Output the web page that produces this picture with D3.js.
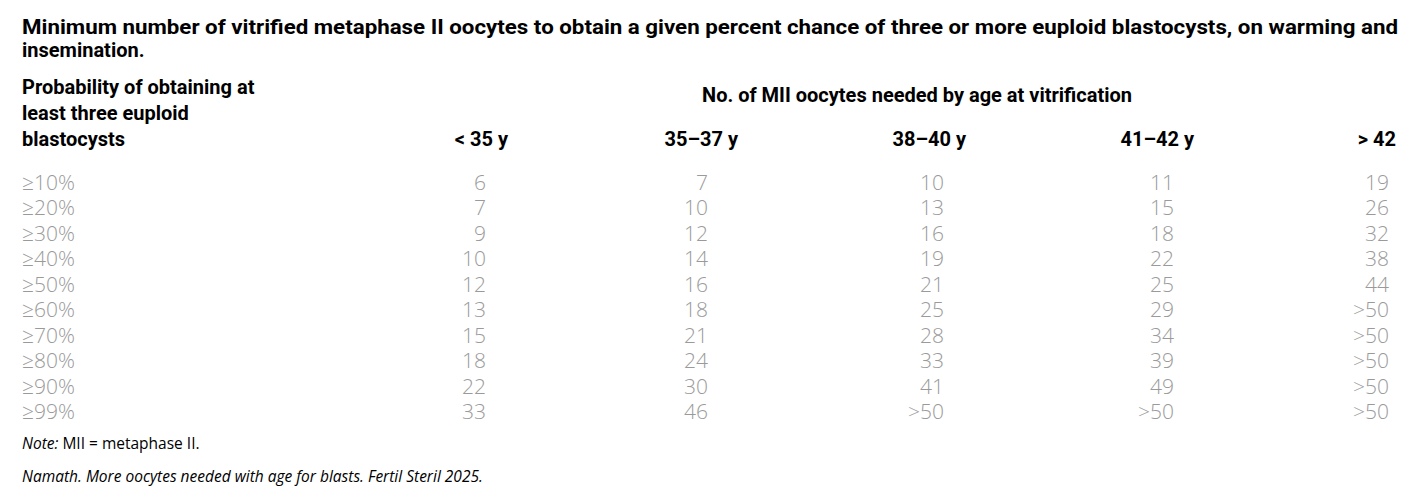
<!DOCTYPE html><html><head><meta charset="utf-8"><script src="https://cdn.jsdelivr.net/npm/d3@7"></script>
<style>body{margin:0;background:#fff}</style></head><body><svg id="c" width="1426" height="500"></svg>
<script>
const title1="Minimum number of vitrified metaphase II oocytes to obtain a given percent chance of three or more euploid blastocysts, on warming and";
const title2="insemination.";
const rowLabels=["≥10%","≥20%","≥30%","≥40%","≥50%","≥60%","≥70%","≥80%","≥90%","≥99%"];
const ageGroups=["< 35 y","35–37 y","38–40 y","41–42 y","> 42"];
const lt35=["6","7","9","10","12","13","15","18","22","33"];
const a35_37=["7","10","12","14","16","18","21","24","30","46"];
const a38_40=["10","13","16","19","21","25","28","33","41",">50"];
const a41_42=["11","15","18","22","25","29","34","39","49",">50"];
const gt42=["19","26","32","38","44",">50",">50",">50",">50",">50"];
const cols=[lt35,a35_37,a38_40,a41_42,gt42];
const svg=d3.select("#c");
const bold="Roboto,Arial,sans-serif";
const light="'Open Sans',Lato,sans-serif";
function bt(x,y,t,anchor,len){const e=svg.append("text").attr("x",x).attr("y",y).attr("font-family",bold).attr("font-weight","bold").attr("font-size",20).attr("text-anchor",anchor||"start").text(t);if(len)e.attr("textLength",len).attr("lengthAdjust","spacingAndGlyphs");return e;}
bt(22,34,title1,"start",1376);
bt(22,57,title2);
["Probability of obtaining at","least three euploid","blastocysts"].forEach((t,i)=>bt(22,94+i*26,t));
bt(917,102,"No. of MII oocytes needed by age at vitrification","middle");
const colRight=[486,708,944,1174,1389], headRight=[508,738,966,1194,1396];
ageGroups.forEach((g,i)=>bt(headRight[i],146,g,"end"));
const y=d3.scaleBand().domain(rowLabels).range([170,425]);
const g=svg.append("g").attr("font-family",light).attr("font-weight",300).attr("font-size",21).attr("fill","#9a9a9a");
rowLabels.forEach((r,j)=>{
  const yy=y(r)+y.bandwidth()/2+7;
  g.append("text").attr("x",22).attr("y",yy).text(r);
  cols.forEach((c,i)=>g.append("text").attr("x",colRight[i]).attr("y",yy).attr("text-anchor","end").text(c[j]));
});
const n=svg.append("text").attr("x",22).attr("y",449).attr("font-family",light).attr("font-size",15.5);
n.append("tspan").attr("font-style","italic").text("Note:");n.append("tspan").text(" MII = metaphase II.");
svg.append("text").attr("x",22).attr("y",482).attr("font-family",light).attr("font-style","italic").attr("font-size",15.5).text("Namath. More oocytes needed with age for blasts. Fertil Steril 2025.");
</script></body></html>
